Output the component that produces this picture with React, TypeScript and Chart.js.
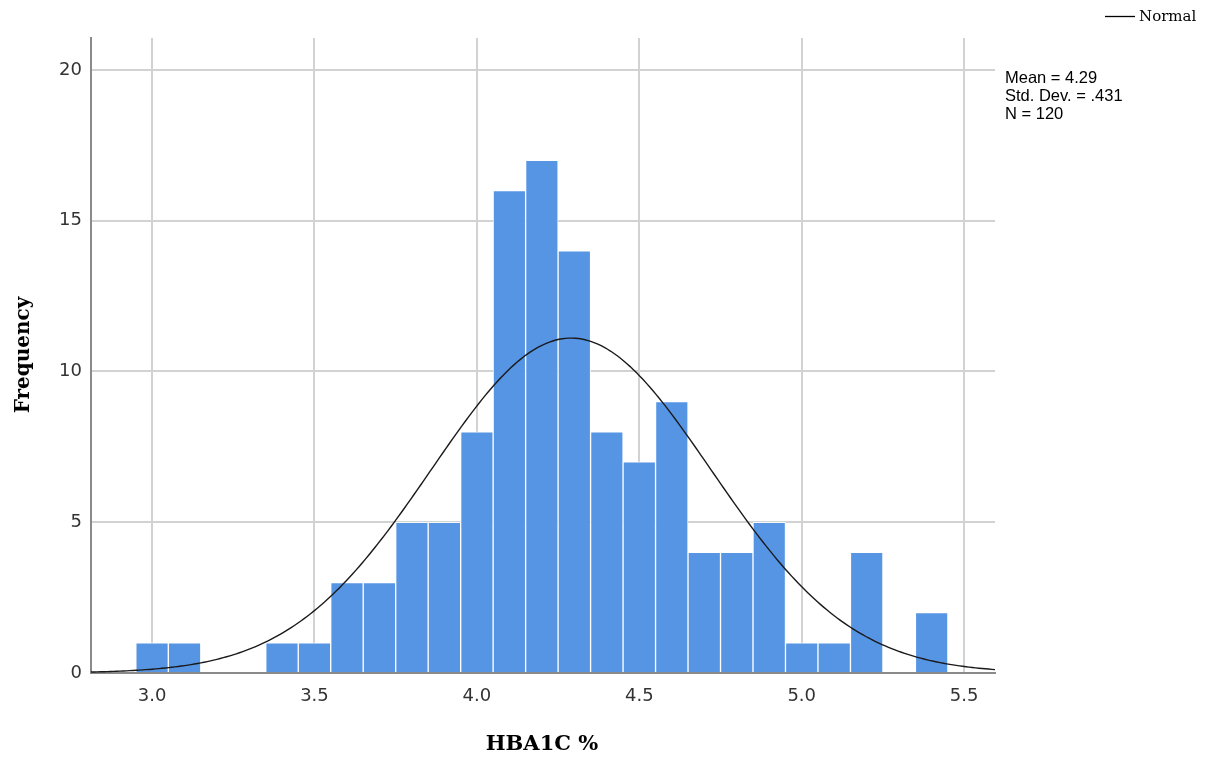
import React, { useEffect, useRef } from 'react';
import { Chart, registerables } from 'chart.js';

Chart.register(...registerables);

// Histogram bins (bin centers) and counts
const binCenters = [3.0, 3.1, 3.2, 3.3, 3.4, 3.5, 3.6, 3.7, 3.8, 3.9, 4.0, 4.1, 4.2, 4.3, 4.4, 4.5, 4.6, 4.7, 4.8, 4.9, 5.0, 5.1, 5.2, 5.3, 5.4];
const frequencies = [1, 1, 0, 0, 1, 1, 3, 3, 5, 5, 8, 16, 17, 14, 8, 7, 9, 4, 4, 5, 1, 1, 4, 0, 2];

// Tick values
const xTickValues = [3.0, 3.5, 4.0, 4.5, 5.0, 5.5];
const yTickValues = [0, 5, 10, 15, 20];

// Reported statistics (the fitted normal curve uses these)
const MEAN = 4.29;
const SD = 0.431;
const N = 120;
const BIN_WIDTH = 0.1;
const statsLines = ['Mean = 4.29', 'Std. Dev. = .431', 'N = 120'];

const X_MIN = 2.812;
const X_MAX = 5.595;
const Y_MAX = 21.06;

const xTitle = 'HBA1C %';
const yTitle = 'Frequency';
const legendLabel = 'Normal';

export default function App() {
  const canvasRef = useRef<HTMLCanvasElement | null>(null);

  useEffect(() => {
    const canvas = canvasRef.current;
    if (!canvas) return;

    const barData = binCenters
      .map((x, i) => ({ x, y: frequencies[i] }))
      .filter((d) => d.y > 0);

    const curve: { x: number; y: number }[] = [];
    const steps = 280;
    for (let i = 0; i <= steps; i++) {
      const x = X_MIN + ((X_MAX - X_MIN) * i) / steps;
      const z = (x - MEAN) / SD;
      const y = (N * BIN_WIDTH) / (SD * Math.sqrt(2 * Math.PI)) * Math.exp(-0.5 * z * z);
      curve.push({ x, y });
    }

    const overlay = {
      id: 'overlay',
      afterDraw(chart: any) {
        const ctx = chart.ctx as CanvasRenderingContext2D;
        ctx.save();
        // Y title
        ctx.fillStyle = '#000';
        ctx.font = 'bold 20px "DejaVu Serif"';
        ctx.textAlign = 'center';
        ctx.textBaseline = 'middle';
        ctx.save();
        ctx.translate(24, 355);
        ctx.rotate(-Math.PI / 2);
        ctx.fillText(yTitle, 0, 0);
        ctx.restore();
        // X title
        ctx.font = 'bold 21px "DejaVu Serif"';
        ctx.fillText(xTitle, 542, 745);
        // Legend
        ctx.strokeStyle = '#000';
        ctx.lineWidth = 1.3;
        ctx.beginPath();
        ctx.moveTo(1105, 16.5);
        ctx.lineTo(1135, 16.5);
        ctx.stroke();
        ctx.font = '15px "DejaVu Serif"';
        ctx.textAlign = 'left';
        ctx.fillText(legendLabel, 1139, 17);
        // Stats
        ctx.font = '16.5px "Liberation Sans"';
        statsLines.forEach((t, i) => ctx.fillText(t, 1005, 78 + i * 18));
        ctx.restore();
      },
    };

    const chart = new Chart(canvas, {
      type: 'bar',
      data: {
        datasets: [
          {
            type: 'line',
            label: legendLabel,
            data: curve,
            borderColor: '#1a1a1a',
            borderWidth: 1.4,
            pointRadius: 0,
            fill: false,
            tension: 0,
            order: 0,
          } as any,
          {
            type: 'bar',
            label: 'Frequency',
            data: barData,
            backgroundColor: '#5694e4',
            borderColor: 'rgba(255,255,255,0.85)',
            borderWidth: 1,
            barPercentage: 1,
            categoryPercentage: 1,
            order: 1,
          } as any,
        ],
      },
      options: {
        responsive: false,
        animation: false,
        layout: { padding: { left: 0, top: 38, right: 212, bottom: 0 } },
        plugins: {
          legend: { display: false },
          tooltip: { enabled: false },
          title: { display: false },
        },
        scales: {
          x: {
            type: 'linear',
            min: X_MIN,
            max: X_MAX,
            offset: false,
            afterBuildTicks: (scale: any) => {
              scale.ticks = xTickValues.map((v) => ({ value: v }));
            },
            afterFit: (scale: any) => {
              scale.height = 89;
            },
            ticks: {
              padding: 13,
              color: '#333',
              font: { family: '"DejaVu Sans"', size: 18 },
              callback: (v: any) => Number(v).toFixed(1),
              maxRotation: 0,
            },
            grid: {
              color: '#d2d2d2',
              lineWidth: 2,
              drawTicks: false,
              offset: false,
            },
            border: { display: true, color: '#8a8a8a', width: 2 },
          },
          y: {
            type: 'linear',
            min: 0,
            max: Y_MAX,
            afterBuildTicks: (scale: any) => {
              scale.ticks = yTickValues.map((v) => ({ value: v }));
            },
            afterFit: (scale: any) => {
              scale.width = 91;
            },
            ticks: {
              padding: 9,
              color: '#333',
              font: { family: '"DejaVu Sans"', size: 18 },
            },
            grid: {
              color: '#d2d2d2',
              lineWidth: 2,
              drawTicks: false,
            },
            border: { display: true, color: '#8a8a8a', width: 2 },
          },
        },
      },
      plugins: [overlay],
    });

    return () => chart.destroy();
  }, []);

  return (
    <div style={{ position: 'absolute', left: 0, top: 0, width: 1207, height: 762, background: '#fff' }}>
      <canvas ref={canvasRef} width={1207} height={762} />
    </div>
  );
}
